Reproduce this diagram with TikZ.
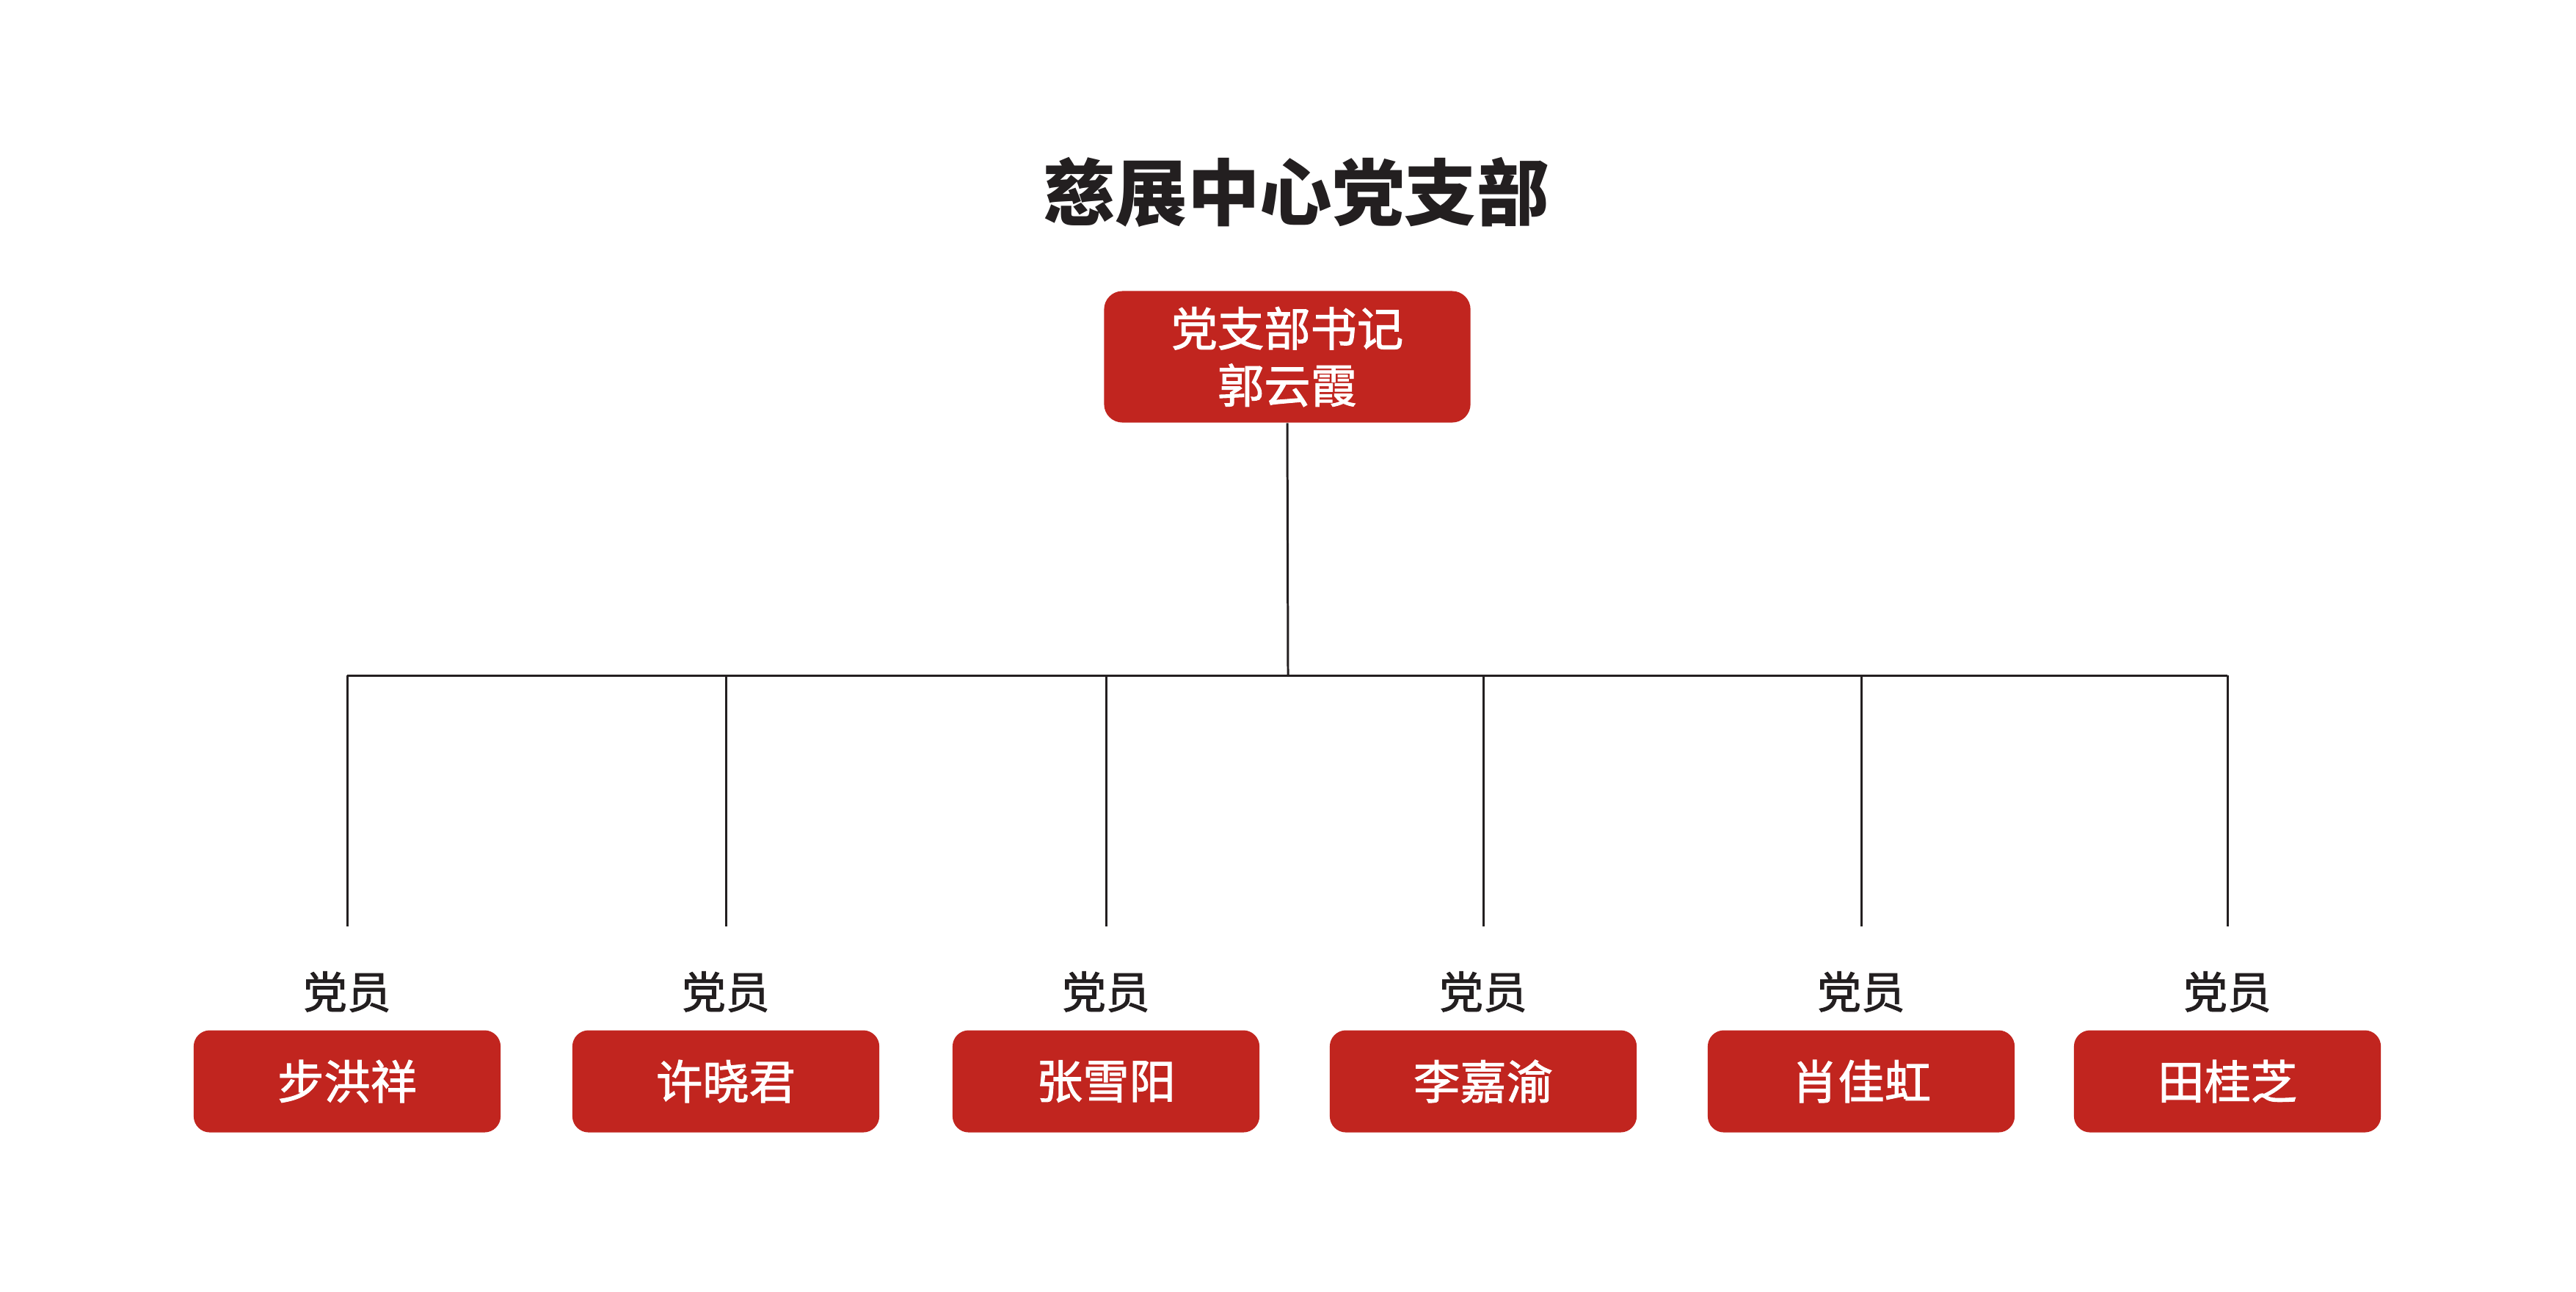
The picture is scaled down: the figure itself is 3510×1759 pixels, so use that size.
\documentclass[tikz,border=0pt]{standalone}
\usepackage{fontspec}
\newfontfamily\cjk{Noto Sans CJK SC}
\newfontfamily\cjkmed{Noto Sans CJK SC}[FakeBold=1.6]
\definecolor{boxred}{RGB}{193,37,31}
\definecolor{ink}{RGB}{35,31,32}
\tikzset{
  redbox/.style={fill=boxred, rounded corners=0.22cm, inner sep=0pt, text=white, font=\cjkmed\fontsize{18}{22}\selectfont, align=center},
  topbox/.style={redbox, minimum width=4.99cm, minimum height=1.79cm, rounded corners=0.25cm},
  namebox/.style={redbox, minimum width=4.18cm, minimum height=1.39cm},
  rolelabel/.style={font=\cjkmed\fontsize{17}{20}\selectfont, text=ink, inner sep=0pt},
  link/.style={draw=ink, line width=0.85pt},
}
\begin{document}
\begin{tikzpicture}[x=0.01cm,y=-0.01cm]
\useasboundingbox (0,0) rectangle (3510,1759);
\fill[white] (0,0) rectangle (3510,1759);
\node[font=\cjk\bfseries\fontsize{28}{32}\selectfont, text=ink, inner sep=0pt] (title) at (1766,262) {慈展中心党支部};
\node[topbox] (sec) at (1754,486) {党支部书记\\郭云霞};
\coordinate (hub) at (1755,920);
\draw[link] (sec.south) -- (hub);
\coordinate (hl) at (473,920);
\coordinate (hr) at (3035,920);
\draw[link] (hl) -- (hr);
\foreach \i/\x/\nm in {1/473/步洪祥, 2/989/许晓君, 3/1507/张雪阳, 4/2021/李嘉渝, 5/2536/肖佳虹, 6/3035/田桂芝}{
  \coordinate (top\i) at (\x,920);
  \coordinate (bot\i) at (\x,1262);
  \draw[link] (top\i) -- (bot\i);
  \node[rolelabel] (role\i) at (\x,1351) {党员};
  \node[namebox] (m\i) at (\x,1473) {\nm};
}
\end{tikzpicture}
\end{document}
